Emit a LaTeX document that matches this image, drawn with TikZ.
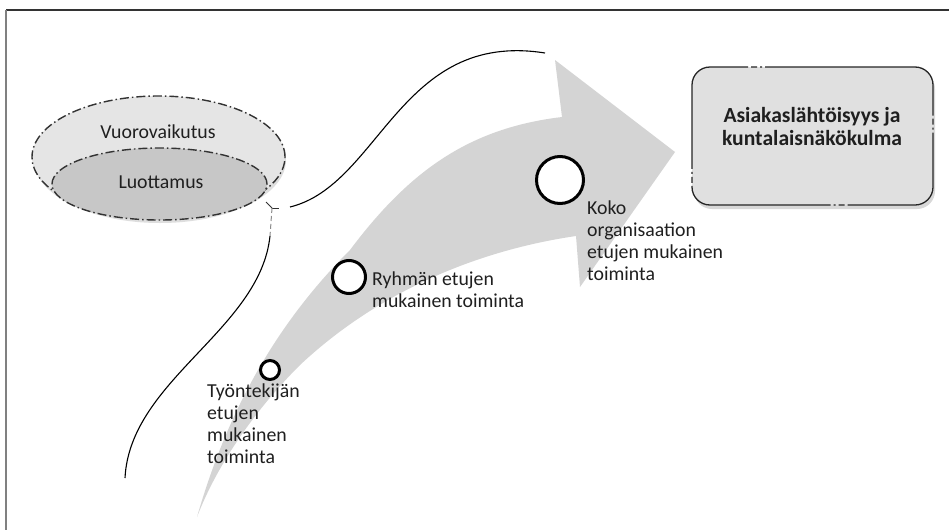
\documentclass[tikz,border=0pt]{standalone}
\usepackage{fontspec}
\setmainfont{Carlito}
\usetikzlibrary{shapes.geometric}
\tikzset{
  lbl/.style={font=\fontsize{19.8}{21.8}\selectfont, inner sep=0pt, align=left, anchor=base west, text=black!88},
  ctr/.style={font=\fontsize{19.8}{21.8}\selectfont, inner sep=0pt, anchor=base, text=black!88},
  ring/.style={circle, draw=black, line width=3pt, fill=white, inner sep=0pt},
  dashline/.style={draw=black!80, line width=1.4pt, dash pattern=on 9pt off 3pt on 1.5pt off 3pt},
  link/.style={draw=black, line width=1.1pt},
  arrowfill/.style={fill=black!17},
}
\begin{document}
\begin{tikzpicture}[x=1pt,y=-1pt]
\useasboundingbox (0,0) rectangle (949,530);
\fill[white] (0,0) rectangle (949,530);
% frame
\draw[black!80, line width=1.3pt] (6,10) -- (949,10);
\draw[black!50, line width=2pt] (6,10) -- (6,530);

% big curved arrow
\fill[arrowfill] (197,517) .. controls (225,420) and (270,330) .. (350,250)
  .. controls (410,170) and (470,128) .. (562,117)
  -- (555,60) -- (675,152) -- (580,287) -- (576,236)
  .. controls (480,250) and (380,290) .. (300,365)
  .. controls (250,415) and (215,470) .. (197,517) -- cycle;

% ellipses
\fill[black!25, opacity=0.5] (160,160) ellipse [x radius=126, y radius=63];
\node[ellipse, dashline, fill=black!10, minimum width=253, minimum height=122, inner sep=0pt] (outer) at (158.5,157) {};
\node[ellipse, dashline, fill=black!22, minimum width=215, minimum height=72, inner sep=0pt] (inner) at (159.5,184) {};
\node[ctr] (vuoro) at (158,138) {Vuorovaikutus};
\node[ctr] (luott) at (161,188) {Luottamus};

% connector curves
\coordinate (fork) at (272,208);
\coordinate (aend) at (545,53);
\coordinate (bend) at (125,478);
\draw[black!80, line width=1pt] (fork) -- (266,202);
\draw[black!80, line width=1pt] (fork) -- (279,208);
\draw[black!45, line width=1pt, dash pattern=on 5pt off 3pt] (fork) -- (270,236);
\draw[link] (290,207) .. controls (380,185) and (400,30) .. (aend);
\draw[link] (270,236) .. controls (260,330) and (130,380) .. (bend);

% goal box
\fill[black!30, opacity=0.5, rounded corners=18pt] (694,71) rectangle (935,209);
\node[draw=black!85, line width=1.3pt, dash pattern=on 150pt off 3pt on 2pt off 3pt on 6pt off 3pt, rounded corners=18pt, fill=black!12, minimum width=241, minimum height=138, inner sep=0pt] (goal) at (812.5,136) {};
\node[ctr, font=\fontsize{21.6}{23}\selectfont\bfseries, align=center] (goaltext) at (812,145) {Asiakaslähtöisyys ja\\kuntalaisnäkökulma};

% stage circles
\node[ring, minimum size=19] (c1) at (270,370) {};
\node[ring, minimum size=33] (c2) at (349,277) {};
\node[ring, minimum size=47] (c3) at (560,180) {};

% labels (base = baseline of last line)
\node[lbl] (t1) at (207,463) {Työntekijän\\etujen\\mukainen\\toiminta};
\node[lbl] (t2) at (372,307) {Ryhmän etujen\\mukainen toiminta};
\node[lbl] (t3) at (587,280) {Koko\\organisaation\\etujen mukainen\\toiminta};
\end{tikzpicture}
\end{document}
